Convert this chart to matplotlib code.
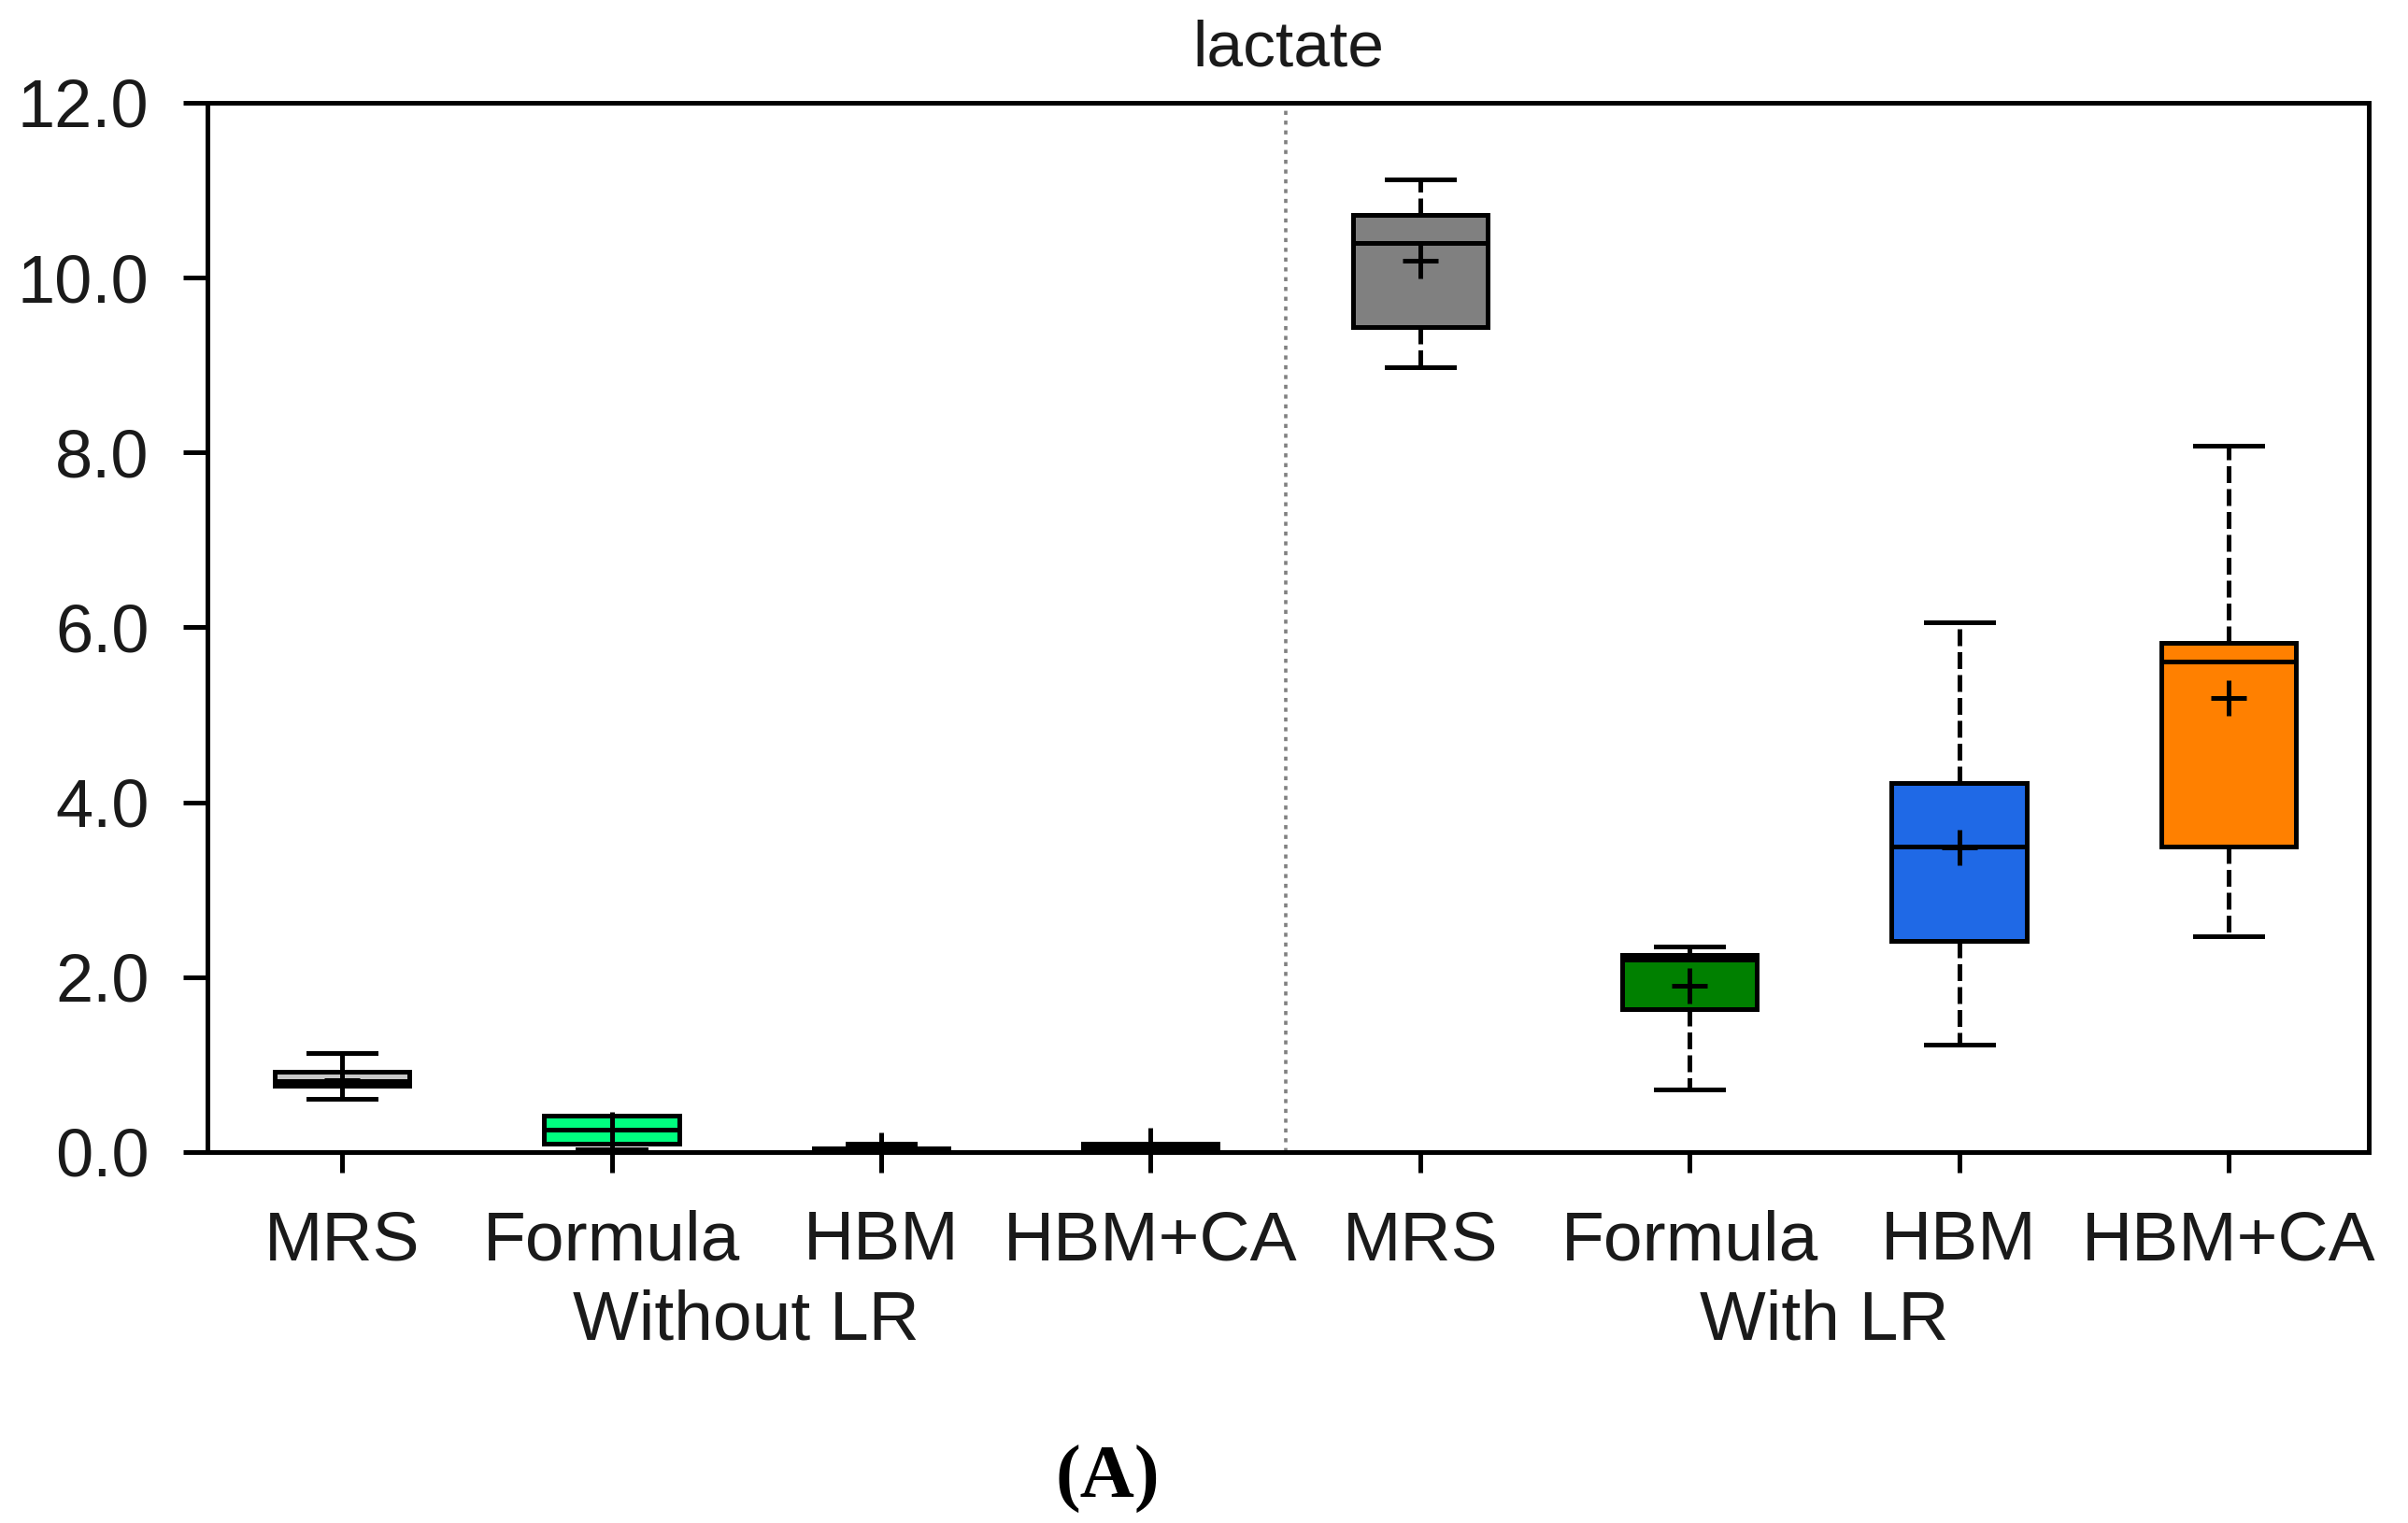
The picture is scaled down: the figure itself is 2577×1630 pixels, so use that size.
import matplotlib
matplotlib.use('Agg')
import matplotlib.pyplot as plt
from matplotlib.transforms import blended_transform_factory

# box statistics (lactate)
labels = ['MRS', 'Formula', 'HBM', 'HBM+CA', 'MRS', 'Formula', 'HBM', 'HBM+CA']
groups = ['Without LR', 'With LR']
group_centers = [2.5, 6.5]
whislo = [0.61, 0.03, 0.00, 0.00, 8.97, 0.72, 1.23, 2.47]
q1 = [0.76, 0.10, 0.00, 0.01, 9.43, 1.63, 2.41, 3.49]
med = [0.81, 0.26, 0.02, 0.05, 10.40, 2.20, 3.49, 5.61]
q3 = [0.92, 0.42, 0.04, 0.10, 10.72, 2.25, 4.22, 5.82]
whishi = [1.13, 0.42, 0.10, 0.10, 11.12, 2.35, 6.06, 8.08]
means = [0.82, 0.26, 0.02, 0.07, 10.19, 1.90, 3.48, 5.19]
colors = ['#c8c8c8', '#00ff7f', '#000000', '#000000',
          '#808080', '#008000', '#1f69e6', '#ff8000']
yticks = [0, 2, 4, 6, 8, 10, 12]

plt.rcParams['font.family'] = ['Liberation Sans', 'DejaVu Sans']
lw = 3.6

fig = plt.figure(figsize=(25.77, 16.30), dpi=100)
ax = fig.add_axes([0.0861, 0.2436, 0.8976, 0.6890])

stats = []
for i in range(len(labels)):
    stats.append(dict(whislo=whislo[i], q1=q1[i], med=med[i], q3=q3[i],
                      whishi=whishi[i], mean=means[i], fliers=[]))

pos = list(range(1, len(labels) + 1))
out = ax.bxp(stats, positions=pos, widths=0.5, patch_artist=True,
             showmeans=True, showfliers=False,
             boxprops=dict(linewidth=lw, edgecolor='black'),
             medianprops=dict(color='black', linewidth=lw),
             whiskerprops=dict(color='black', linewidth=lw,
                               linestyle=(0, (3.6, 1.3))),
             capprops=dict(color='black', linewidth=lw),
             meanprops=dict(marker='+', markersize=28, markeredgewidth=lw,
                            markeredgecolor='black'))
for patch, c in zip(out['boxes'], colors):
    patch.set_facecolor(c)
# short whiskers on the left half look solid
for w in out['whiskers'][:8]:
    w.set_linestyle('-')

ax.axvline(4.5, color='#808080', linewidth=2.6, linestyle=(0, (1.2, 1.7)))

ax.set_xlim(0.5, 8.52)
ax.set_ylim(0, 12)
ax.set_yticks(yticks)
ax.set_yticklabels(['%.1f' % v for v in yticks])
ax.set_xticks(pos)
ax.set_xticklabels(labels)

for s in ax.spines.values():
    s.set_linewidth(lw)
ax.tick_params(axis='y', length=19, width=lw, pad=26, labelsize=52,
               labelcolor='#1a1a1a')
ax.tick_params(axis='x', length=16, width=lw, pad=28, labelsize=54,
               labelcolor='#1a1a1a')

ax.set_title('lactate', fontsize=50, pad=28, color='#1a1a1a')

trans = blended_transform_factory(ax.transData, ax.transAxes)
for g, xc in zip(groups, group_centers):
    ax.text(xc, -0.179, g, transform=trans, ha='center', va='baseline',
            fontsize=54, color='#1a1a1a')

fig.text(1185 / 2577, 27 / 1630, '(A)', ha='center', va='baseline',
         family='Liberation Serif', fontweight='bold', fontsize=58)

fig.savefig('out.png', dpi=100)
